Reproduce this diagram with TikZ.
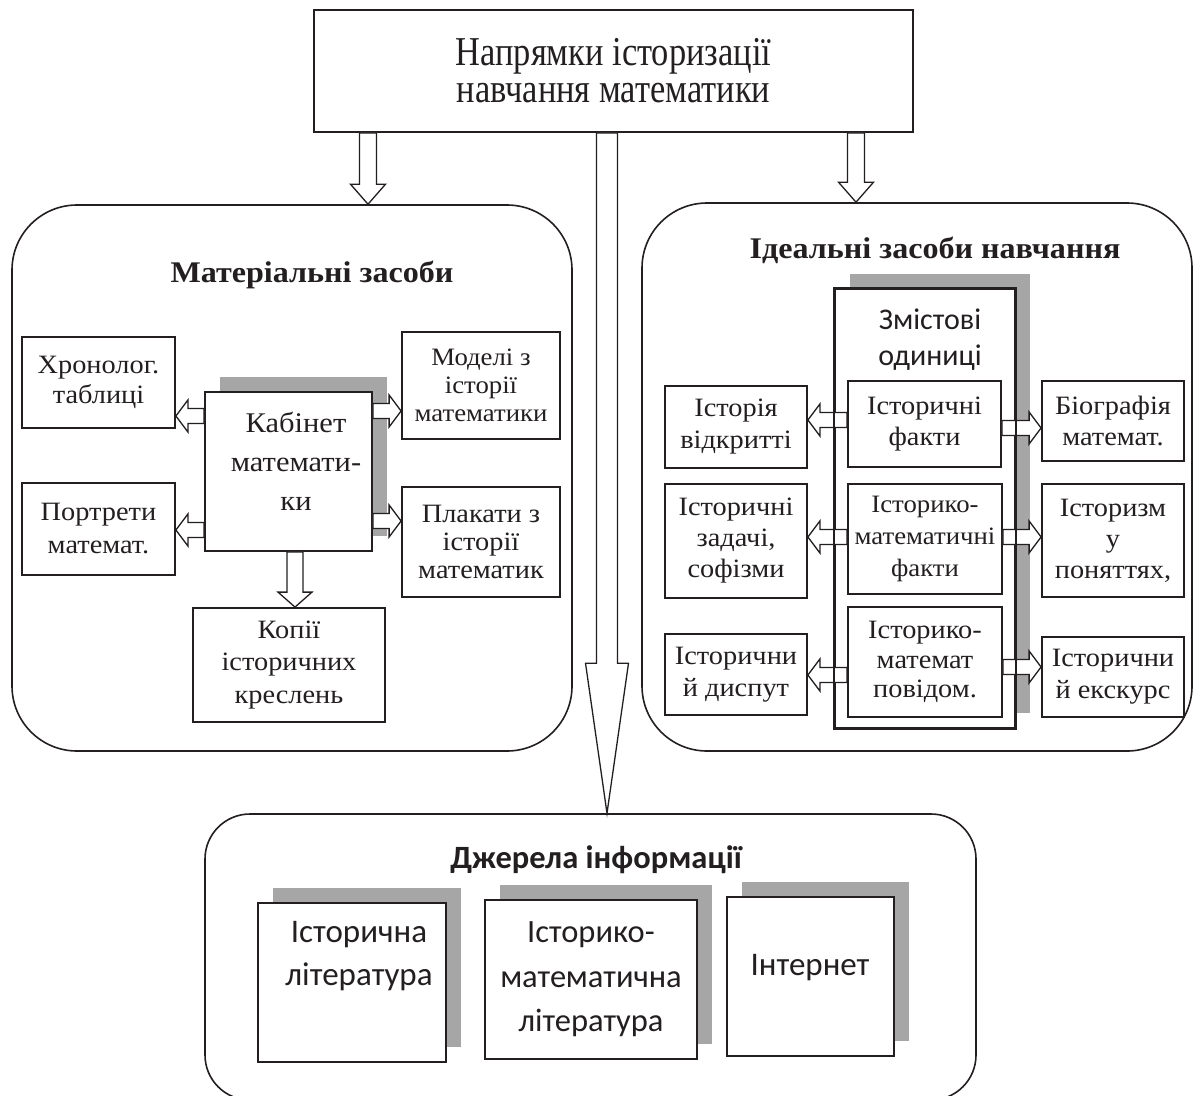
\documentclass[tikz,border=0pt]{standalone}
\usepackage{fontspec}
\setmainfont{Liberation Serif}
\newfontfamily\calib{Carlito}
\newfontfamily\condser[FakeStretch=0.84]{Liberation Serif}
\newfontfamily\bxf[FakeStretch=1.07]{Liberation Serif}
\usetikzlibrary{calc,shadows}
\definecolor{ln}{RGB}{35,31,32}
\definecolor{sg}{RGB}{166,166,166}

\tikzset{
 panel/.style={draw=ln, line width=1.6pt, rounded corners=#1, inner sep=0pt},
 box/.style={draw=ln, line width=1.8pt, fill=white, inner sep=0pt, align=center, font=\bxf\fontsize{26.5}{30}\selectfont},
 sbox/.style={box, general shadow={fill=sg, draw=none, shadow xshift=15pt, shadow yshift=15pt}},
 arr/.style={draw=ln, line width=1.3pt, fill=white, line join=miter},
 ttl/.style={font=\bxf\bfseries\fontsize{30}{34}\selectfont},
 lbl/.style={align=center, inner sep=0pt},
}

% horizontal block arrow: #1 start (its y is used), #2 end (its x is the tip)
\newcommand{\harr}[5]{%
  \coordinate (arrS) at (#1);
  \coordinate (arrE) at (#2);
  \draw[arr] let \p1=(arrS), \p2=(arrE), \n1={(\x2-\x1)/abs(\x2-\x1)} in
    (\x1,\y1+#3pt) -- (\x2-\n1*#5pt,\y1+#3pt) -- (\x2-\n1*#5pt,\y1+#4pt) -- (\x2,\y1)
    -- (\x2-\n1*#5pt,\y1-#4pt) -- (\x2-\n1*#5pt,\y1-#3pt) -- (\x1,\y1-#3pt) -- cycle;}
% vertical block arrow: #1 start (its x is used), #2 end (its y is the tip)
\newcommand{\varr}[5]{%
  \coordinate (arrS) at (#1);
  \coordinate (arrE) at (#2);
  \draw[arr] let \p1=(arrS), \p2=(arrE), \n1={(\y2-\y1)/abs(\y2-\y1)} in
    (\x1+#3pt,\y1) -- (\x1+#3pt,\y2-\n1*#5pt) -- (\x1+#4pt,\y2-\n1*#5pt) -- (\x1,\y2)
    -- (\x1-#4pt,\y2-\n1*#5pt) -- (\x1-#3pt,\y2-\n1*#5pt) -- (\x1-#3pt,\y1) -- cycle;}

\begin{document}
\begin{tikzpicture}[x=1pt,y=-1pt,color=ln]
\useasboundingbox (0,0) rectangle (1193,1095);
\fill[white] (0,0) rectangle (1193,1095);

% panels
\node[panel=65, minimum width=560, minimum height=546] (mat) at (292,478) {};
\node[panel=65, minimum width=550, minimum height=548] (ide) at (917,477) {};
\node[panel=45, minimum width=771, minimum height=286] (src) at (590.5,957) {};

% top box
\node[box, minimum width=599, minimum height=122, font=\condser\fontsize{41}{37}\selectfont] (hd) at (613.5,71) {Напрямки історизації\\навчання математики};

\varr{$(hd.south)+(-245.5,0)$}{mat.north}{8.5}{17.5}{20}
\varr{$(hd.south)+(242.5,0)$}{ide.north}{8.5}{17.5}{20}
\varr{$(hd.south)+(-6.5,0)$}{src.north}{10.5}{21.5}{150}

% titles
\node[ttl] (matt) at (312,275) {Матеріальні засоби};
\node[ttl] (idt) at (935,250) {Ідеальні засоби навчання};
\node[font=\calib\bfseries\fontsize{32.5}{36}\selectfont] (srct) at (596,860) {Джерела інформації};

% left panel
\node[box, minimum width=153, minimum height=91, font=\bxf\fontsize{26.5}{30}\selectfont] (hron) at (98.5,382.5) {Хронолог.\\таблиці};
\node[box, minimum width=153, minimum height=92, font=\bxf\fontsize{26.5}{33}\selectfont] (port) at (98.5,529) {Портрети\\математ.};
\node[box, minimum width=158, minimum height=107, font=\bxf\fontsize{25}{28}\selectfont] (mod) at (481,385.5) {Моделі з\\історії\\математики};
\node[box, minimum width=158, minimum height=110, font=\bxf\fontsize{26.5}{28}\selectfont] (plak) at (481,542) {Плакати з\\історії\\математик};
\node[sbox, minimum width=167, minimum height=159] (kab) at (288.5,471.5) {};
\node[lbl, font=\bxf\fontsize{28.5}{39}\selectfont] (kabt) at (296,461) {Кабінет\\математи-\\ки};
\node[box, minimum width=192, minimum height=114, font=\bxf\fontsize{26.5}{32.5}\selectfont] (kop) at (289,665) {Копії\\історичних\\креслень};

\harr{$(kab.west)+(0,-55.5)$}{hron.east}{7.5}{16}{12}
\harr{$(kab.west)+(0,58.5)$}{port.east}{7.5}{16}{12}
\harr{$(kab.east)+(0,-60.5)$}{mod.west}{7.5}{16}{12}
\harr{$(kab.east)+(0,49.5)$}{plak.west}{7.5}{16}{12}
\varr{$(kab.south)+(6.5,0)$}{kop.north}{8}{17}{15}

% right panel
\node[sbox, minimum width=180, minimum height=439] (zm) at (925,508.5) {};
\node[lbl, font=\calib\fontsize{30}{36}\selectfont] (zmt) at (930,339.5) {Змістові\\одиниці};
\node[box, minimum width=153, minimum height=86, font=\bxf\fontsize{26.5}{31}\selectfont] (f1) at (924.5,424) {Історичні\\факти};
\node[box, minimum width=154, minimum height=110, font=\bxf\fontsize{25}{32}\selectfont] (f2) at (925,539) {Історико-\\математичні\\факти};
\node[box, minimum width=154, minimum height=110, font=\bxf\fontsize{26.5}{29.5}\selectfont] (f3) at (925,662) {Історико-\\математ\\повідом.};

\node[box, minimum width=142, minimum height=82, font=\bxf\fontsize{26.5}{32}\selectfont] (l1) at (736,427) {Історія\\відкритті};
\node[box, minimum width=142, minimum height=114, font=\bxf\fontsize{26.5}{31}\selectfont] (l2) at (736,541) {Історичні\\задачі,\\софізми};
\node[box, minimum width=142, minimum height=81, font=\bxf\fontsize{26.5}{32}\selectfont] (l3) at (736,674.5) {Історични\\й диспут};
\node[box, minimum width=142, minimum height=80, font=\bxf\fontsize{26.5}{31}\selectfont] (r1) at (1113,421) {Біографія\\математ.};
\node[box, minimum width=142, minimum height=113, font=\bxf\fontsize{26.5}{31}\selectfont] (r2) at (1113,540.5) {Історизм\\у\\поняттях,};
\node[box, minimum width=142, minimum height=80, font=\bxf\fontsize{26.5}{32}\selectfont] (r3) at (1113,677) {Історични\\й екскурс};

\harr{$(f1.west)+(0,-4)$}{l1.east}{7.5}{16}{12}
\harr{$(f2.west)+(0,-2)$}{l2.east}{7.5}{16}{12}
\harr{$(f3.west)+(0,13)$}{l3.east}{7.5}{16}{12}
\harr{$(f1.east)+(0,4)$}{r1.west}{7.5}{16}{12}
\harr{$(f2.east)+(0,-2)$}{r2.west}{7.5}{16}{12}
\harr{$(f3.east)+(0,5)$}{r3.west}{7.5}{16}{12}
\draw[line width=1.8pt] (zm.north west) rectangle (zm.south east);

% bottom panel
\node[sbox, minimum width=188, minimum height=159] (b1) at (352,982.5) {};
\node[lbl, font=\calib\fontsize{33}{43}\selectfont] (b1t) at (359,956.5) {Історична\\література};
\node[sbox, minimum width=212, minimum height=159, font=\calib\fontsize{32.5}{44.5}\selectfont] (b2) at (591,979.5) {Історико-\\математична\\література};
\node[sbox, minimum width=167, minimum height=159] (b3) at (810.5,976.5) {};
\node[lbl, font=\calib\fontsize{33}{40}\selectfont] (b3t) at (810,968) {Інтернет};
\end{tikzpicture}
\end{document}
